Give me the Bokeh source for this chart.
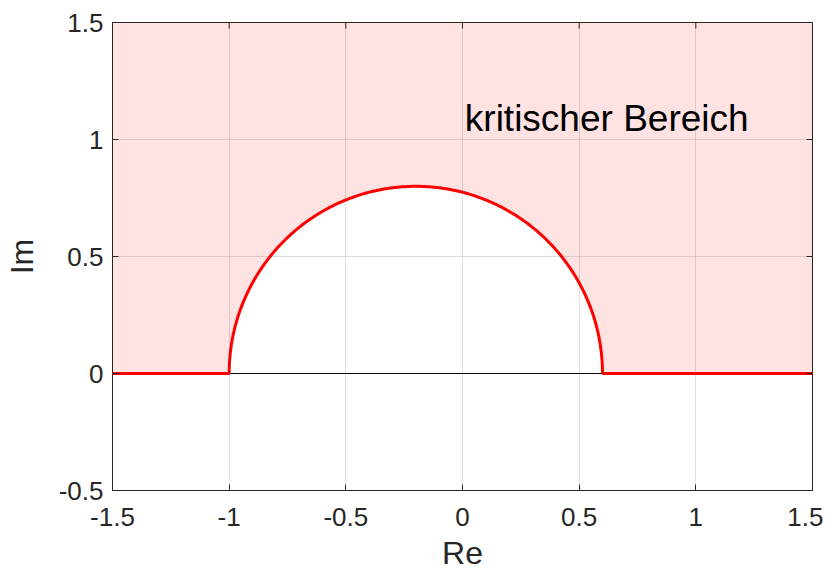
import numpy as np
from bokeh.plotting import figure
from bokeh.models import FixedTicker, Range1d
from bokeh.core.properties import value
from bokeh.embed import file_html
from bokeh.resources import INLINE

# data
x_ticks = [-1.5, -1, -0.5, 0, 0.5, 1, 1.5]
x_tick_labels = ["-1.5", "-1", "-0.5", "0", "0.5", "1", "1.5"]
y_ticks = [-0.5, 0, 0.5, 1, 1.5]
y_tick_labels = ["-0.5", "0", "0.5", "1", "1.5"]
circle_center = -0.2
circle_radius = 0.8
x_left_edge = -1.5
x_right_edge = 1.5
y_bottom_edge = -0.5
y_top_edge = 1.5
label_text = "kritischer Bereich"
label_x = 0.01
label_y = 1.09

theta = np.linspace(np.pi, 0, 240)
arc_x = circle_center + circle_radius * np.cos(theta)
arc_y = circle_radius * np.sin(theta)

curve_x = [x_left_edge] + list(arc_x) + [x_right_edge]
curve_y = [0] + list(arc_y) + [0]

poly_x = curve_x + [x_right_edge, x_left_edge]
poly_y = curve_y + [y_top_edge, y_top_edge]

TXT = "#262626"
FONT = "Liberation Sans"

p = figure(width=823, height=580, output_backend="svg", toolbar_location=None,
           x_range=Range1d(x_left_edge, x_right_edge), y_range=Range1d(y_bottom_edge, y_top_edge),
           min_border_left=111, min_border_right=11, min_border_top=22, min_border_bottom=90)
p.outline_line_color = TXT
p.outline_line_width = 1

p.patch(poly_x, poly_y, fill_color="red", fill_alpha=0.115, line_color=None)
p.line([circle_center - circle_radius, circle_center + circle_radius], [0, 0], line_color="black", line_width=1)
p.line(curve_x, curve_y, line_color="red", line_width=3)
p.text([label_x], [label_y], text=[label_text], text_font=value(FONT), text_font_size="37px",
       text_color="black", text_baseline="alphabetic", text_align="left")

# inner ticks on top and right sides
p.ray(x=x_ticks, y=[y_top_edge] * len(x_ticks), length=6, length_units="screen",
      angle=-np.pi / 2, line_color=TXT, line_width=1)
p.ray(x=[x_right_edge] * len(y_ticks), y=y_ticks, length=6, length_units="screen",
      angle=np.pi, line_color=TXT, line_width=1)

p.xaxis.ticker = FixedTicker(ticks=x_ticks)
p.yaxis.ticker = FixedTicker(ticks=y_ticks)
p.xaxis.major_label_overrides = {t: s for t, s in zip(x_ticks, x_tick_labels)}
p.yaxis.major_label_overrides = {t: s for t, s in zip(y_ticks, y_tick_labels)}
p.xaxis.axis_label = "Re"
p.yaxis.axis_label = "Im"

for ax in [p.xaxis[0], p.yaxis[0]]:
    ax.major_tick_in = 6
    ax.major_tick_out = 0
    ax.minor_tick_in = 0
    ax.minor_tick_out = 0
    ax.axis_line_color = TXT
    ax.major_tick_line_color = TXT
    ax.major_label_text_font = FONT
    ax.major_label_text_font_size = "26px"
    ax.major_label_text_color = TXT
    ax.axis_label_text_font = FONT
    ax.axis_label_text_font_size = "32px"
    ax.axis_label_text_font_style = "normal"
    ax.axis_label_text_color = TXT
p.xaxis.major_label_standoff = 17
p.yaxis.major_label_standoff = 9
p.xaxis.axis_label_standoff = 6
p.yaxis.axis_label_standoff = 16

p.xgrid.ticker = FixedTicker(ticks=x_ticks)
p.ygrid.ticker = FixedTicker(ticks=y_ticks)
p.grid.grid_line_color = "#262626"
p.grid.grid_line_alpha = 0.15
p.grid.level = "overlay"

open("out.html", "w").write(file_html(p, INLINE))
